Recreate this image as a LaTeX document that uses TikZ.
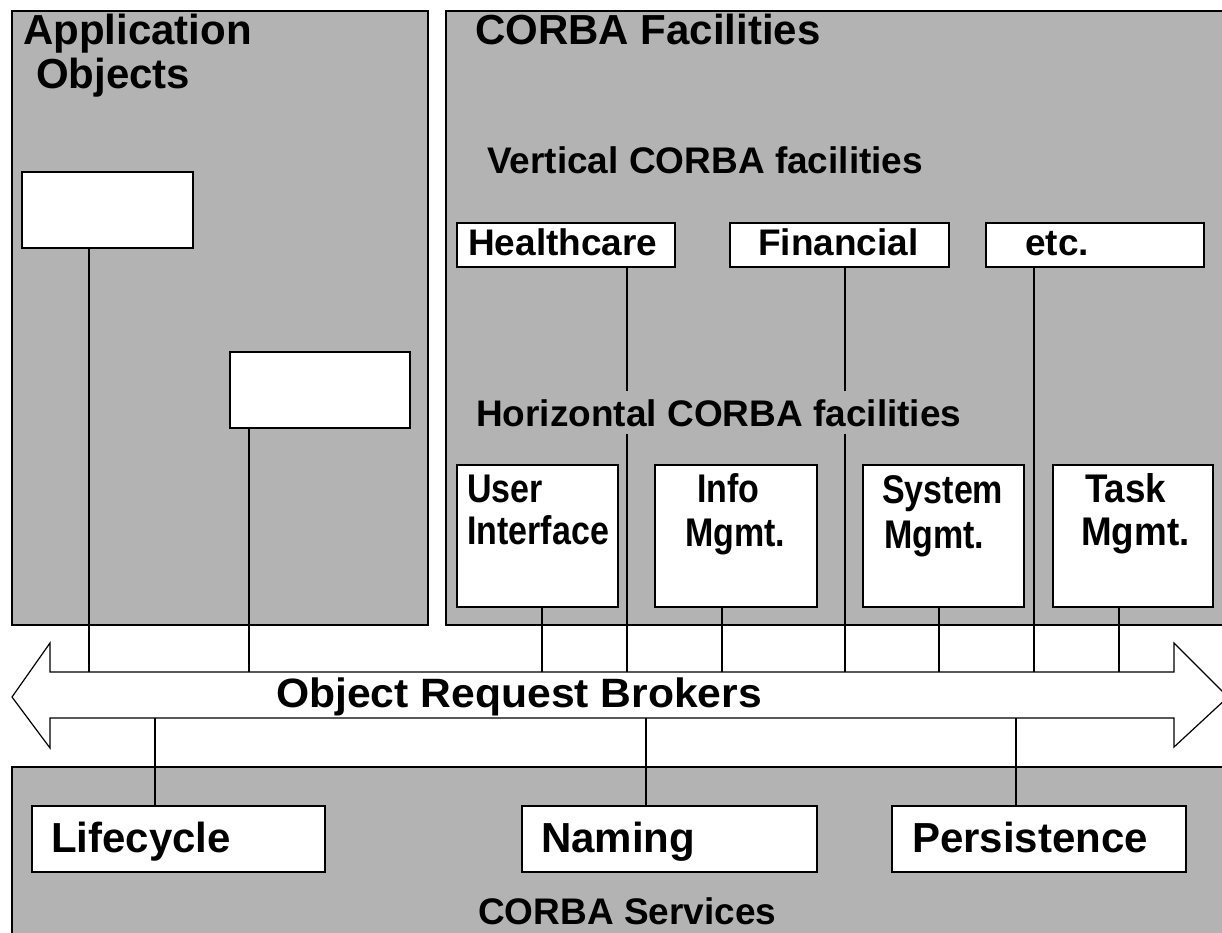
\documentclass[tikz,border=0pt]{standalone}
\usepackage{fontspec}
\usepackage{graphicx}
\setmainfont{Liberation Sans}
\usetikzlibrary{calc}
\definecolor{panelgray}{RGB}{179,179,179}

% horizontally squeezed / stretched text
\newcommand\sqz[2]{\scalebox{#1}[1]{#2}}
% wire from a box down to the top edge of the broker arrow
\newcommand\upwire[2]{\coordinate (#1w) at ([xshift=#2pt]#1.south);
  \draw[wire] (#1w) -- (#1w |- orbT);}
% wire from the bottom edge of the broker arrow down to a box
\newcommand\downwire[2]{\coordinate (#1w) at ([xshift=#2pt]#1.north);
  \draw[wire] (#1w |- orbB) -- (#1w);}

\tikzset{
  panel/.style={draw=black, fill=panelgray, line width=1.6pt},
  wbox/.style={draw=black, fill=white, line width=1.8pt, inner sep=0pt, anchor=north west},
  wire/.style={line width=1.4pt},
  orbshape/.style={draw=black, fill=white, line width=1.2pt, line join=miter},
  lbl/.style={anchor=base west, inner sep=0pt, font=\fontsize{#1}{#1}\selectfont\bfseries},
}

\begin{document}
\begin{tikzpicture}[x=1pt, y=-1pt]
\useasboundingbox (0,0) rectangle (1222,932);
\clip (0,0) rectangle (1222,932);

% broker arrow edges
\coordinate (orbT) at (0,672);
\coordinate (orbB) at (0,718);

% background panels
\draw[panel] (12,11) rectangle (428,625);
\draw[panel] (446,11) rectangle (1240,625);
\draw[panel] (12,767) rectangle (1240,945);

% white boxes
\node[wbox, minimum width=171pt, minimum height=76pt] (app1) at (21,171) {};
\node[wbox, minimum width=180pt, minimum height=76pt] (app2) at (229,351) {};
\node[wbox, minimum width=218pt, minimum height=44pt] (hc)   at (456,222) {};
\node[wbox, minimum width=219pt, minimum height=44pt] (fin)  at (729,222) {};
\node[wbox, minimum width=218pt, minimum height=44pt] (etc)  at (985,222) {};
\node[wbox, minimum width=161pt, minimum height=142pt] (ui)   at (456,464) {};
\node[wbox, minimum width=162pt, minimum height=142pt] (info) at (654,464) {};
\node[wbox, minimum width=161pt, minimum height=142pt] (sys)  at (862,464) {};
\node[wbox, minimum width=160pt, minimum height=142pt] (task) at (1052,464) {};
\node[wbox, minimum width=293pt, minimum height=66pt] (life) at (31,805) {};
\node[wbox, minimum width=295pt, minimum height=66pt] (nam)  at (521,805) {};
\node[wbox, minimum width=294pt, minimum height=66pt] (pers) at (891,805) {};

% connectors to the broker
\upwire{app1}{-18.5}
\upwire{app2}{-71}
\upwire{hc}{61}
\upwire{fin}{5.5}
\upwire{etc}{-61}
\upwire{ui}{4.5}
\upwire{info}{-14}
\upwire{sys}{-4.5}
\upwire{task}{-14}
\downwire{life}{-23.5}
\downwire{nam}{-23.5}
\downwire{pers}{-23}

% object request broker double arrow
\draw[orbshape] (12,697) -- (50,643) -- (50,672) -- (1174,672) -- (1174,643)
  -- (1228,697) -- (1174,747) -- (1174,718) -- (50,718) -- (50,748) -- cycle;

% titles and labels
\node[lbl=42] (tApp) at (23,44) {Application};
\node[lbl=42] (tObj) at (36,88) {Objects};
\node[lbl=42] (tFac) at (475,44) {CORBA Facilities};
\node[lbl=37] (tVert) at (487,173) {Vertical CORBA facilities};
\node[lbl=37, fill=panelgray, inner ysep=8pt] (tHor) at (476,426) {Horizontal CORBA facilities};

\node[lbl=37] at (468,255) {Healthcare};
\node[lbl=37] at (758,255) {Financial};
\node[lbl=37] at (1025,255) {etc.};

\node[lbl=40] at (467,502) {\sqz{0.85}{User}};
\node[lbl=40] at (467,544) {\sqz{0.85}{Interface}};
\node[lbl=40] at (697,502) {\sqz{0.85}{Info}};
\node[lbl=40] at (685,546) {\sqz{0.85}{Mgmt.}};
\node[lbl=40] at (882,503) {\sqz{0.85}{System}};
\node[lbl=40] at (884,548) {\sqz{0.85}{Mgmt.}};
\node[lbl=40] at (1085,502) {\sqz{0.92}{Task}};
\node[lbl=40] at (1081,545) {\sqz{0.92}{Mgmt.}};

\node[lbl=41] (tOrb) at (276,707) {\sqz{1.04}{Object Request Brokers}};

\node[lbl=42] at (51,852) {Lifecycle};
\node[lbl=42] at (541,852) {Naming};
\node[lbl=42] at (912,852) {Persistence};
\node[lbl=37] (tSvc) at (478,924) {CORBA Services};
\end{tikzpicture}
\end{document}
